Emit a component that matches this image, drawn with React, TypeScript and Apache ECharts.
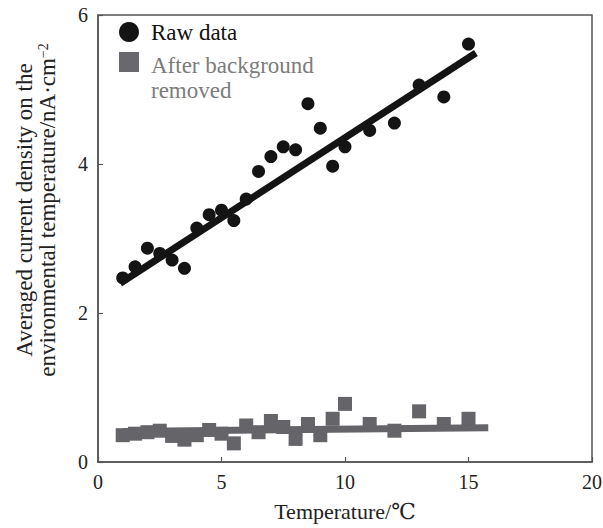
import React, { useEffect, useRef } from "react";
import * as echarts from "echarts";

const temperatures = [1, 1.5, 2, 2.5, 3, 3.5, 4, 4.5, 5, 5.5, 6, 6.5, 7, 7.5, 8, 8.5, 9, 9.5, 10, 11, 12, 13, 14, 15];
const rawData = [2.47, 2.62, 2.87, 2.8, 2.71, 2.6, 3.14, 3.32, 3.38, 3.24, 3.53, 3.9, 4.1, 4.23, 4.19, 4.81, 4.48, 3.97, 4.23, 4.45, 4.55, 5.06, 4.9, 5.61];
const removedData = [0.36, 0.38, 0.4, 0.42, 0.35, 0.3, 0.36, 0.43, 0.38, 0.25, 0.49, 0.4, 0.55, 0.47, 0.31, 0.51, 0.36, 0.58, 0.78, 0.51, 0.42, 0.68, 0.51, 0.58];
const rawFitX = [0.9, 15.3];
const rawFitY = [2.4, 5.49];
const removedFitX = [1.0, 15.8];
const removedFitY = [0.41, 0.46];
const xTicks = [0, 5, 10, 15, 20];
const yTicks = [0, 2, 4, 6];

const SERIF = "'Liberation Serif', 'DejaVu Serif', serif";
const BLACK = "#141414";
const GREY = "#646469";

export default function App() {
  const ref = useRef<HTMLDivElement>(null);
  useEffect(() => {
    if (!ref.current) return;
    const chart = echarts.init(ref.current, null, { renderer: "svg" });
    chart.setOption({
      animation: false,
      backgroundColor: "#ffffff",
      grid: {
        left: 98,
        right: 11,
        top: 15,
        bottom: 66,
        show: true,
        borderColor: "#555",
        borderWidth: 1.5,
        containLabel: false,
        outerBoundsMode: "none",
      },
      xAxis: {
        type: "value",
        min: xTicks[0],
        max: xTicks[xTicks.length - 1],
        interval: 5,
        name: "Temperature/℃",
        nameLocation: "middle",
        nameGap: 38,
        nameTextStyle: { fontFamily: SERIF, fontSize: 22, color: "#222" },
        axisLine: { show: true, lineStyle: { color: "#555", width: 1.5 } },
        axisTick: { show: true, inside: true, length: 5, lineStyle: { color: "#555", width: 1.2 } },
        axisLabel: { fontFamily: SERIF, fontSize: 20, color: "#222", margin: 10 },
        splitLine: { show: false },
      },
      yAxis: {
        type: "value",
        min: yTicks[0],
        max: yTicks[yTicks.length - 1],
        interval: 2,
        axisLine: { show: true, lineStyle: { color: "#555", width: 1.5 } },
        axisTick: { show: true, inside: true, length: 5, lineStyle: { color: "#555", width: 1.2 } },
        axisLabel: { fontFamily: SERIF, fontSize: 20, color: "#222", margin: 10 },
        splitLine: { show: false },
      },
      series: [
        {
          name: "After background removed",
          type: "scatter",
          symbol: "rect",
          symbolSize: 14,
          itemStyle: { color: GREY, opacity: 1 },
          data: temperatures.map((t, i) => [t, removedData[i]]),
          z: 2,
        },
        {
          name: "Removed fit",
          type: "line",
          showSymbol: false,
          lineStyle: { color: GREY, width: 7 },
          data: removedFitX.map((x, i) => [x, removedFitY[i]]),
          z: 2,
        },
        {
          name: "Raw data",
          type: "scatter",
          symbol: "circle",
          symbolSize: 13,
          itemStyle: { color: BLACK, opacity: 1 },
          data: temperatures.map((t, i) => [t, rawData[i]]),
          z: 3,
        },
        {
          name: "Raw fit",
          type: "line",
          showSymbol: false,
          lineStyle: { color: BLACK, width: 7 },
          data: rawFitX.map((x, i) => [x, rawFitY[i]]),
          z: 3,
        },
      ],
      graphic: [
        {
          type: "text",
          x: 36,
          y: 210,
          rotation: Math.PI / 2,
          style: {
            text: "Averaged current density on the\nenvironmental temperature/nA·cm{sup|−2}",
            fontFamily: SERIF,
            fontSize: 23,
            lineHeight: 23,
            fill: "#222",
            align: "center",
            verticalAlign: "middle",
            rich: { sup: { fontFamily: SERIF, fontSize: 14, verticalAlign: "top", fill: "#222", lineHeight: 23 } },
          },
        },
        { type: "circle", shape: { cx: 129, cy: 32, r: 10 }, style: { fill: BLACK } },
        {
          type: "text",
          x: 151,
          y: 32,
          style: { text: "Raw data", fontFamily: SERIF, fontSize: 23, fill: "#111", verticalAlign: "middle" },
        },
        { type: "rect", shape: { x: 119, y: 52, width: 20, height: 20 }, style: { fill: "#68686d" } },
        {
          type: "text",
          x: 151,
          y: 65,
          style: { text: "After background", fontFamily: SERIF, fontSize: 23, fill: "#7c7c7c", verticalAlign: "middle" },
        },
        {
          type: "text",
          x: 151,
          y: 90,
          style: { text: "removed", fontFamily: SERIF, fontSize: 23, fill: "#7c7c7c", verticalAlign: "middle" },
        },
      ],
    });
    return () => chart.dispose();
  }, []);
  return <div ref={ref} style={{ width: 603, height: 528, position: "absolute", left: 0, top: 0 }} />;
}
